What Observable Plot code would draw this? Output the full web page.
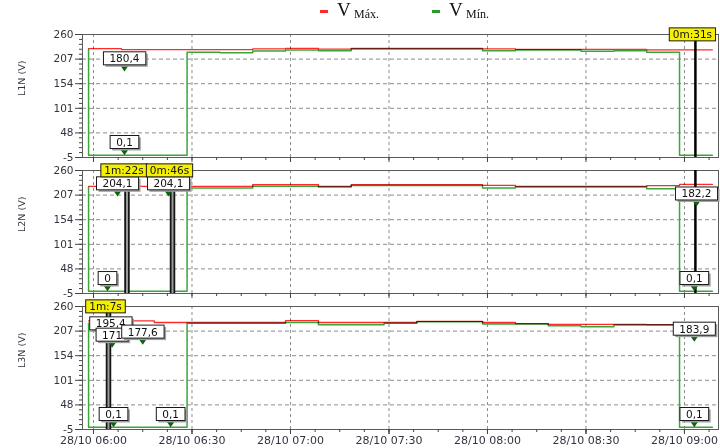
<!DOCTYPE html>
<html>
<head>
<meta charset="utf-8">
<script src="https://cdn.jsdelivr.net/npm/d3@7"></script>
<script src="https://cdn.jsdelivr.net/npm/@observablehq/plot@0.6"></script>
<style>
  body { margin: 0; background: #fff; }
  #wrap { width: 720px; height: 448px; position: relative; overflow: hidden; background: #fff; }
  #legend { position: relative; width: 720px; height: 22px; }
  #legend .sw { position: absolute; top: 10px; width: 8px; height: 2.5px; }
  #legend .V { position: absolute; top: 0px; font-family: "Liberation Serif", serif; font-size: 19px; line-height: 20px; color: #111; }
  #legend .sub { position: absolute; top: 8px; font-family: "Liberation Serif", serif; font-size: 12px; line-height: 13px; color: #111; }
  #chart svg { display: block; }
</style>
</head>
<body>
<div id="wrap">
  <div id="legend">
    <span class="sw" style="left:320px;background:#ff2a2a"></span>
    <span class="V" style="left:337px">V</span><span class="sub" style="left:354px">Máx.</span>
    <span class="sw" style="left:432px;background:#2e9a2e"></span>
    <span class="V" style="left:449px">V</span><span class="sub" style="left:466px">Mín.</span>
  </div>
  <div id="chart"></div>
</div>
<script>
// ---------- data ----------
const day = "2023-10-28";
const phases = ["L1N", "L2N", "L3N"];
const axisTitles = ["L1N (V)", "L2N (V)", "L3N (V)"];

// 10-minute aggregation instants (values drawn as step-before)
const times = ["05:58:30","06:08:30","06:18:30","06:28:30","06:38:30","06:48:30","06:58:30",
  "07:08:30","07:18:30","07:28:30","07:38:30","07:48:30","07:58:30","08:08:30","08:18:30",
  "08:28:30","08:38:30","08:48:30","08:58:30","09:08:30"];

const l1nMax = [229.5,229.5,227.5,227.5,227.5,227.5,229,230,228.5,230,230,230,230,229,228,228,228,228,227,227];
const l1nMin = [227.5,0.1,0.1,0.1,222,220.5,224.5,226.5,225,228.5,228.5,228.5,228.5,225,226.5,226.5,224,225,222,0.1];
const l2nMax = [226,226,226,226,226,226,229.5,229.5,226,229.5,229.5,229.5,229.5,228,226,226,226,226,227.5,230];
const l2nMin = [224,0.1,0.1,0.1,222.5,222.5,226,226,224.5,227.5,227.5,227.5,227.5,222.5,224.5,224.5,224.5,224.5,220.5,0.1];
const l3nMax = [229,229,229,225.5,225.5,225.5,225.5,229.5,225.5,225.5,225.5,228,228,225.5,223,221.5,221.5,221.5,221,223];
const l3nMin = [224,0.1,0.1,0.1,224,224,224,225.5,220.5,220.5,224,227,227,222.5,222.5,218.5,216.5,220,220,0.1];

// events (duration flags)
const eventPhases = ["L1N", "L2N", "L2N", "L2N", "L3N"];
const eventTimes  = ["09:03:20", "09:03:20", "06:10:12", "06:24:04", "06:04:34"];
const eventLabels = ["0m:31s", "", "1m:22s", "0m:46s", "1m:7s"];
const eventKinds  = ["line", "line", "bar", "bar", "bar"];

// value annotations
const annPhases = ["L1N","L1N","L2N","L2N","L2N","L2N","L2N","L3N","L3N","L3N","L3N","L3N","L3N","L3N"];
const annTimes  = ["06:09:26","06:09:26","06:07:19","06:22:51","06:04:16","09:03:40","09:03:00",
                   "06:05:15","06:05:40","06:15:00","06:06:06","06:23:30","09:03:00","09:03:00"];
const annValues = [180.4, 0.1, 204.1, 204.1, 0, 182.2, 0.1, 195.4, 171, 177.6, 0.1, 0.1, 183.9, 0.1];

// axes
const yTicks = [-5, 48, 101, 154, 207, 260];
const xTicks = ["06:00", "06:30", "07:00", "07:30", "08:00", "08:30", "09:00"];
const xDomain = ["05:56:39", "09:10:22"];

// ---------- build ----------
const T = s => new Date(`${day}T${s.length === 5 ? s + ":00" : s}Z`);
const maxes = [l1nMax, l2nMax, l3nMax];
const mins = [l1nMin, l2nMin, l3nMin];
const rows = phases.flatMap((p, i) => times.map((t, j) => ({phase: p, t: T(t), max: maxes[i][j], min: mins[i][j]})));
const events = eventPhases.map((p, i) => ({phase: p, t: T(eventTimes[i]), label: eventLabels[i], kind: eventKinds[i]}));
const anns = annPhases.map((p, i) => ({phase: p, t: T(annTimes[i]), value: annValues[i], label: String(annValues[i]).replace(".", ",")}));
const titles = phases.map((p, i) => ({phase: p, title: axisTitles[i]}));

const xMajor = xTicks.map(T);
const xMinor = d3.range(+T(xTicks[0]), +T(xDomain[1]), 450000).map(ms => new Date(ms));
const yMinor = d3.range(yTicks[0], yTicks[yTicks.length - 1] + 0.01, (yTicks[1] - yTicks[0]) / 5);
const fmt = d3.utcFormat("%d/%m %H:%M");

const downTri = {draw(ctx) { ctx.moveTo(-4.5, -6.5); ctx.lineTo(4.5, -6.5); ctx.lineTo(0, 0); ctx.closePath(); }};

const WHITE_TXT = "#111111", YELLOW_TXT = "#121212";

const svg = Plot.plot({
  width: 720,
  height: 426,
  marginLeft: 82,
  marginRight: 2,
  marginTop: 11,
  marginBottom: 18,
  style: {fontFamily: "DejaVu Sans, sans-serif", fontSize: "10.5px", color: "#333340", background: "#fff"},
  x: {type: "utc", domain: xDomain.map(T), label: null},
  y: {domain: [yTicks[0], yTicks[yTicks.length - 1]], label: null},
  fy: {domain: phases, paddingInner: 0.098, paddingOuter: 0, axis: null, label: null},
  marks: [
    Plot.gridY({ticks: yTicks, stroke: "#8c8c8c", strokeOpacity: 1, strokeDasharray: "4,3"}),
    Plot.gridX({ticks: xMajor, stroke: "#8c8c8c", strokeOpacity: 1, strokeDasharray: "3,3"}),
    Plot.frame({stroke: "#5a5a5a"}),
    Plot.axisY({ticks: yMinor, tickSize: 3, tickFormat: () => "", stroke: "#444", label: null}),
    Plot.axisY({ticks: yTicks, tickSize: 7, tickPadding: 2, tickFormat: d => String(d), stroke: "#444", fontSize: 10.5, label: null}),
    Plot.axisX({ticks: xMinor, tickSize: 3, tickFormat: () => "", stroke: "#444", facetAnchor: null, label: null}),
    Plot.axisX({ticks: xMajor, tickSize: 5, tickFormat: () => "", stroke: "#444", facetAnchor: null, label: null}),
    Plot.axisX({ticks: xMajor, tickSize: 5, tickPadding: 2, tickFormat: fmt, stroke: "#444", fontSize: 11, label: null}),
    Plot.text(titles, {fy: "phase", text: "title", frameAnchor: "left", dx: -61, rotate: -90, fontSize: 9.5, fill: "#333340"}),
    Plot.line(rows, {x: "t", y: "min", fy: "phase", curve: "step-before", stroke: "#3aa63a", strokeWidth: 1.5}),
    Plot.line(rows, {x: "t", y: "max", fy: "phase", curve: "step-before", stroke: "#ff2a2a", strokeWidth: 1.3, mixBlendMode: "multiply"}),
    Plot.ruleX(events.filter(d => d.kind === "bar"), {x: "t", fy: "phase", stroke: "#151515", strokeWidth: 5.5}),
    Plot.ruleX(events.filter(d => d.kind === "bar"), {x: "t", fy: "phase", stroke: "#9a9a9a", strokeWidth: 2}),
    Plot.ruleX(events.filter(d => d.kind === "line"), {x: "t", fy: "phase", stroke: "#000", strokeWidth: 2.5}),
    Plot.dot(anns, {x: "t", y: "value", fy: "phase", symbol: downTri, fill: "#0c620c", stroke: "none"}),
    Plot.text(anns, {x: "t", y: "value", fy: "phase", text: "label", dy: -12.5, fill: WHITE_TXT, fontSize: 10.5}),
    Plot.text(events.filter(d => d.label), {x: "t", fy: "phase", text: "label", frameAnchor: "top", lineAnchor: "middle", dx: -3, dy: 0.5, fill: YELLOW_TXT, fontSize: 10.5})
  ]
});

document.getElementById("chart").append(svg);

// boxes behind annotation texts
const NS = "http://www.w3.org/2000/svg";
function boxes(color, fill, padX, padY, shadow) {
  const set = new Set([...svg.querySelectorAll(`g[fill="${color}"] text, text[fill="${color}"]`)]);
  set.forEach(t => {
    const bb = t.getBBox();
    const tr = t.getAttribute("transform");
    const mk = (dx, dy, f, s) => {
      const r = document.createElementNS(NS, "rect");
      r.setAttribute("x", bb.x - padX + dx);
      r.setAttribute("y", bb.y - padY + dy);
      r.setAttribute("width", bb.width + 2 * padX);
      r.setAttribute("height", bb.height + 2 * padY);
      r.setAttribute("fill", f);
      r.setAttribute("stroke", s);
      r.setAttribute("stroke-width", s === "none" ? 0 : 1);
      if (tr) r.setAttribute("transform", tr);
      t.parentNode.insertBefore(r, t);
    };
    if (shadow) mk(2, 2, "#a0a0a0", "none");
    mk(0, 0, fill, "#1a1a1a");
  });
}
boxes(WHITE_TXT, "#ffffff", 6, 0.5, true);
boxes(YELLOW_TXT, "#f5f000", 3.5, 0.5, false);
</script>
</body>
</html>
